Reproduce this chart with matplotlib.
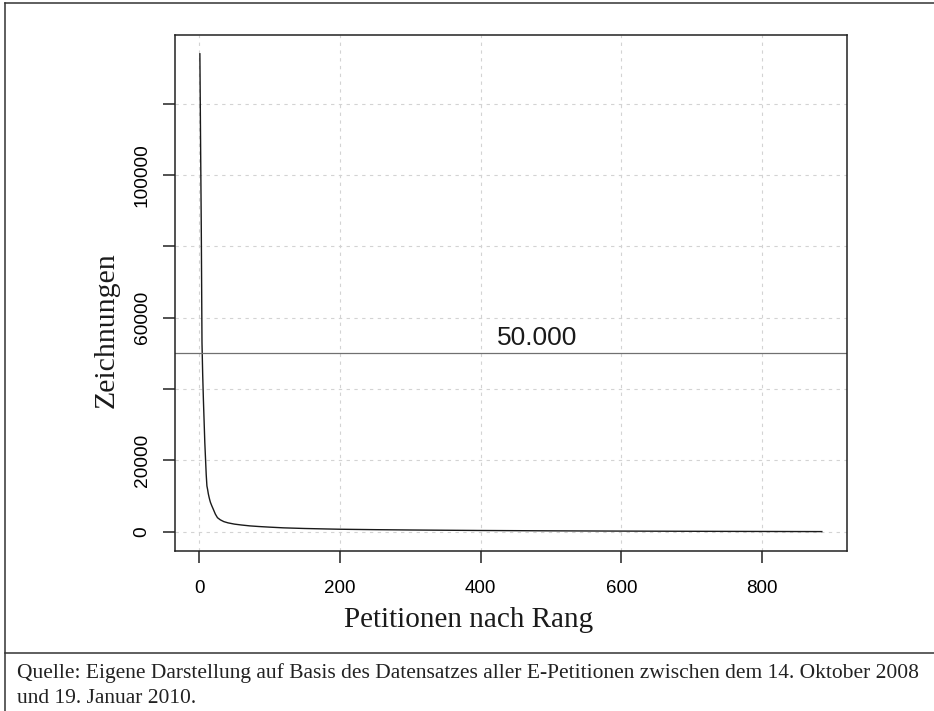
import matplotlib
matplotlib.use("Agg")
import matplotlib.pyplot as plt
from matplotlib.lines import Line2D

# Rang der Petition und Anzahl der Zeichnungen
rang = [1, 2, 3, 4, 5, 6, 7, 8, 9, 10, 11, 12, 13, 14, 15, 16, 18, 20, 23, 26,
        30, 35, 41, 50, 60, 72, 85, 100, 120, 150, 180, 200, 250, 300, 400,
        500, 600, 700, 800, 885]
zeichnungen = [134000, 109000, 85000, 53000, 44000, 37000, 31000, 25000, 20500,
               16000, 12800, 11800, 10600, 9700, 8900, 8200, 7200, 6300, 4900,
               3900, 3300, 2800, 2450, 2100, 1850, 1600, 1420, 1250, 1050, 870,
               740, 660, 540, 450, 310, 210, 140, 85, 40, 1]

schwelle = 50000
schwelle_text = "50.000"
x_ticks = [0, 200, 400, 600, 800]
y_ticks = [0, 20000, 40000, 60000, 80000, 100000, 120000]
y_labels = ["0", "20000", "", "60000", "", "100000", ""]

x_label = "Petitionen nach Rang"
y_label = "Zeichnungen"
quelle = ["Quelle: Eigene Darstellung auf Basis des Datensatzes aller E-Petitionen zwischen dem 14. Oktober 2008",
          "und 19. Januar 2010."]

W, H = 934, 711


def fx(px):
    return px / W


def fy(py):
    return 1 - py / H


fig = plt.figure(figsize=(W / 100, H / 100), dpi=100)
ax = fig.add_axes([fx(175), fy(550.7), fx(846.7) - fx(175), fy(34.7) - fy(550.7)])

# R-artige Achsenbereiche (4 % Rand)
xr = max(rang) - min(rang)
yr = max(zeichnungen) - min(zeichnungen)
ax.set_xlim(min(rang) - 0.04 * xr, max(rang) + 0.04 * xr)
ax.set_ylim(min(zeichnungen) - 0.04 * yr, max(zeichnungen) + 0.04 * yr)

for xt in x_ticks:
    ax.axvline(xt, color="#d3d3d3", lw=0.8, ls=(0, (3, 4)), zorder=0)
for yt in y_ticks:
    ax.axhline(yt, color="#d3d3d3", lw=0.8, ls=(0, (3, 4)), zorder=0)

ax.plot(rang, zeichnungen, color="#1a1a1a", lw=1.0)
ax.axhline(schwelle, color="#707070", lw=0.9)
ax.text(480, 52400, schwelle_text, fontsize=19, family="Liberation Sans",
        ha="center", va="baseline", color="#1a1a1a")

ax.set_xticks(x_ticks)
ax.set_xticklabels([str(v) for v in x_ticks], family="Liberation Sans", fontsize=13.5)
ax.set_yticks(y_ticks)
ax.set_yticklabels(y_labels, family="Liberation Sans", fontsize=13.8,
                   rotation=90, va="center")
ax.tick_params(axis="both", direction="out", length=8.6, width=1.1, color="#222222")
ax.tick_params(axis="x", pad=12.5)
ax.tick_params(axis="y", pad=9)
for s in ax.spines.values():
    s.set_linewidth(1.1)
    s.set_color("#222222")

fig.text(fx(468.3), fy(626.7), x_label, family="Liberation Serif", fontsize=21,
         ha="center", va="baseline", color="#1a1a1a")
fig.text(fx(114), fy(330), y_label, family="Liberation Serif", fontsize=21.5,
         rotation=90, rotation_mode="anchor", ha="center", va="baseline",
         color="#1a1a1a")

# Rahmen und Quellenangabe
rahmen = dict(color="#333333", lw=1.1)
fig.add_artist(Line2D([fx(4.8), fx(4.8)], [fy(2.7), 0], transform=fig.transFigure, **rahmen))
fig.add_artist(Line2D([fx(4.8), 1], [fy(2.7), fy(2.7)], transform=fig.transFigure, **rahmen))
fig.add_artist(Line2D([fx(4.8), 1], [fy(653.3), fy(653.3)], transform=fig.transFigure, **rahmen))

fig.text(fx(16.7), fy(677.7), quelle[0], family="Liberation Serif", fontsize=15.45,
         ha="left", va="baseline", color="#222222")
fig.text(fx(16.7), fy(703.3), quelle[1], family="Liberation Serif", fontsize=15.45,
         ha="left", va="baseline", color="#222222")

fig.savefig("out.png", dpi=100)
